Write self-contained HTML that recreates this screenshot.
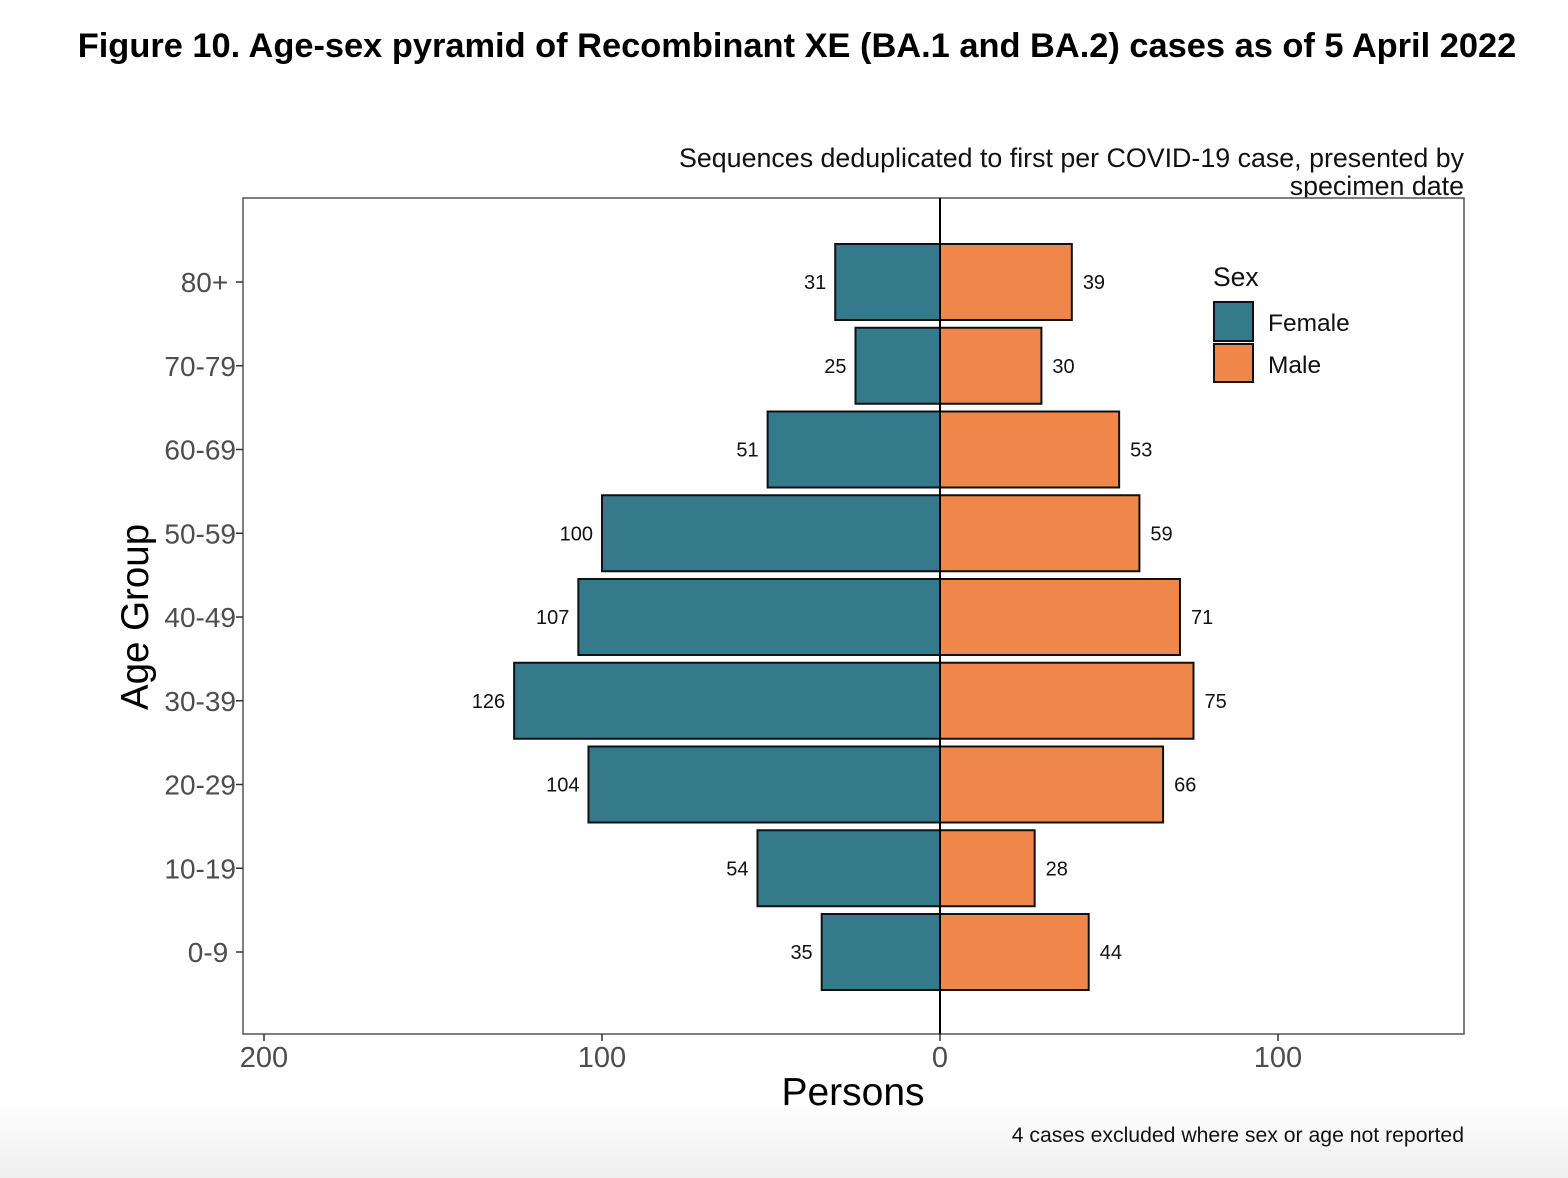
<!DOCTYPE html>
<html><head><meta charset="utf-8"><style>
html,body{margin:0;padding:0;width:1568px;height:1178px;overflow:hidden;background:linear-gradient(to bottom,#fff 0,#fff 1100px,#efefef 1178px);font-family:"Liberation Sans",Arial,sans-serif}
svg text{font-family:"Liberation Sans",Arial,sans-serif}
</style></head><body>
<svg id="chart" width="1568" height="1178">
<text x="797" y="57" text-anchor="middle" font-size="34.4" font-weight="bold" fill="#000">Figure 10. Age-sex pyramid of Recombinant XE (BA.1 and BA.2) cases as of 5 April 2022</text>
<text x="1464" y="167" text-anchor="end" font-size="26.8" fill="#111">Sequences deduplicated to first per COVID-19 case, presented by</text>
<text x="1464" y="195" text-anchor="end" font-size="26.8" fill="#111">specimen date</text>
<rect x="243" y="198" width="1221" height="836" fill="#fff" stroke="#555" stroke-width="1.5"/>
<g id="bars"></g>
<g id="axes"></g>
<text transform="translate(148,617) rotate(-90)" text-anchor="middle" font-size="38.5" fill="#000">Age Group</text>
<text x="853" y="1105" text-anchor="middle" font-size="39" fill="#000">Persons</text>
<text x="1464" y="1142" text-anchor="end" font-size="21.2" fill="#111">4 cases excluded where sex or age not reported</text>
<g>
<text x="1213" y="286" font-size="26.5" fill="#111">Sex</text>
<rect x="1214" y="302" width="39" height="39" fill="#357a8a" stroke="#111" stroke-width="2"/>
<text x="1268" y="331" font-size="24.5" fill="#111">Female</text>
<rect x="1214" y="344" width="39" height="38" fill="#f0874a" stroke="#111" stroke-width="2"/>
<text x="1268" y="373" font-size="24.5" fill="#111">Male</text>
</g>
</svg>
<script>
const ageGroups = ["80+","70-79","60-69","50-59","40-49","30-39","20-29","10-19","0-9"];
const femaleValues = [31,25,51,100,107,126,104,54,35];
const maleValues = [39,30,53,59,71,75,66,28,44];
const xTickValues = [-200,-100,0,100];
const xTickLabels = ["200","100","0","100"];
const ns="http://www.w3.org/2000/svg";
const x0=940, pxPer=3.38;
function xScale(v){return x0+v*pxPer;}
const yTop=282, yStep=83.75, barH=76;
function yScale(i){return yTop+i*yStep;}
const bars=document.getElementById('bars'), axes=document.getElementById('axes');
function mk(tag,attrs,parent){const e=document.createElementNS(ns,tag);for(const k in attrs)e.setAttribute(k,attrs[k]);parent.appendChild(e);return e;}
ageGroups.forEach((g,i)=>{
  const cy=yScale(i);
  const f=femaleValues[i], m=maleValues[i];
  const fr=mk('rect',{x:xScale(-f),y:cy-barH/2,width:xScale(0)-xScale(-f),height:barH,fill:'#357a8a',stroke:'#111','stroke-width':2},bars);
  
  
  const mr=mk('rect',{x:xScale(0),y:cy-barH/2,width:xScale(m)-xScale(0),height:barH,fill:'#f0874a',stroke:'#111','stroke-width':2},bars);
  
  
  const fl=mk('text',{x:xScale(-f)-9,y:cy+7,'text-anchor':'end','font-size':20,fill:'#111'},bars);
  fl.textContent=f;
  
  
  const ml=mk('text',{x:xScale(m)+11,y:cy+7,'font-size':20,fill:'#111'},bars);
  ml.textContent=m;
  
  
  const tk=mk('line',{x1:236,x2:243,y1:cy,y2:cy,stroke:'#333','stroke-width':1.5},axes);
  
  
  const yl=mk('text',{x:236,y:cy+10,'text-anchor':'end','font-size':28,fill:'#4d4d4d'},axes);
  yl.textContent=(g==='80+'||g==='0-9')?g+'\u00a0':g;
  
  
});
const zl=mk('line',{x1:x0,x2:x0,y1:198,y2:1034,stroke:'#000','stroke-width':2},bars);


xTickValues.forEach((v,i)=>{
  const x=xScale(v);
  const t=mk('line',{x1:x,x2:x,y1:1034,y2:1041,stroke:'#333','stroke-width':1.5},axes);
  
  
  const l=mk('text',{x:x,y:1067,'text-anchor':'middle','font-size':29,fill:'#4d4d4d'},axes);
  l.textContent=xTickLabels[i];
  
  
});
</script>
</body></html>
